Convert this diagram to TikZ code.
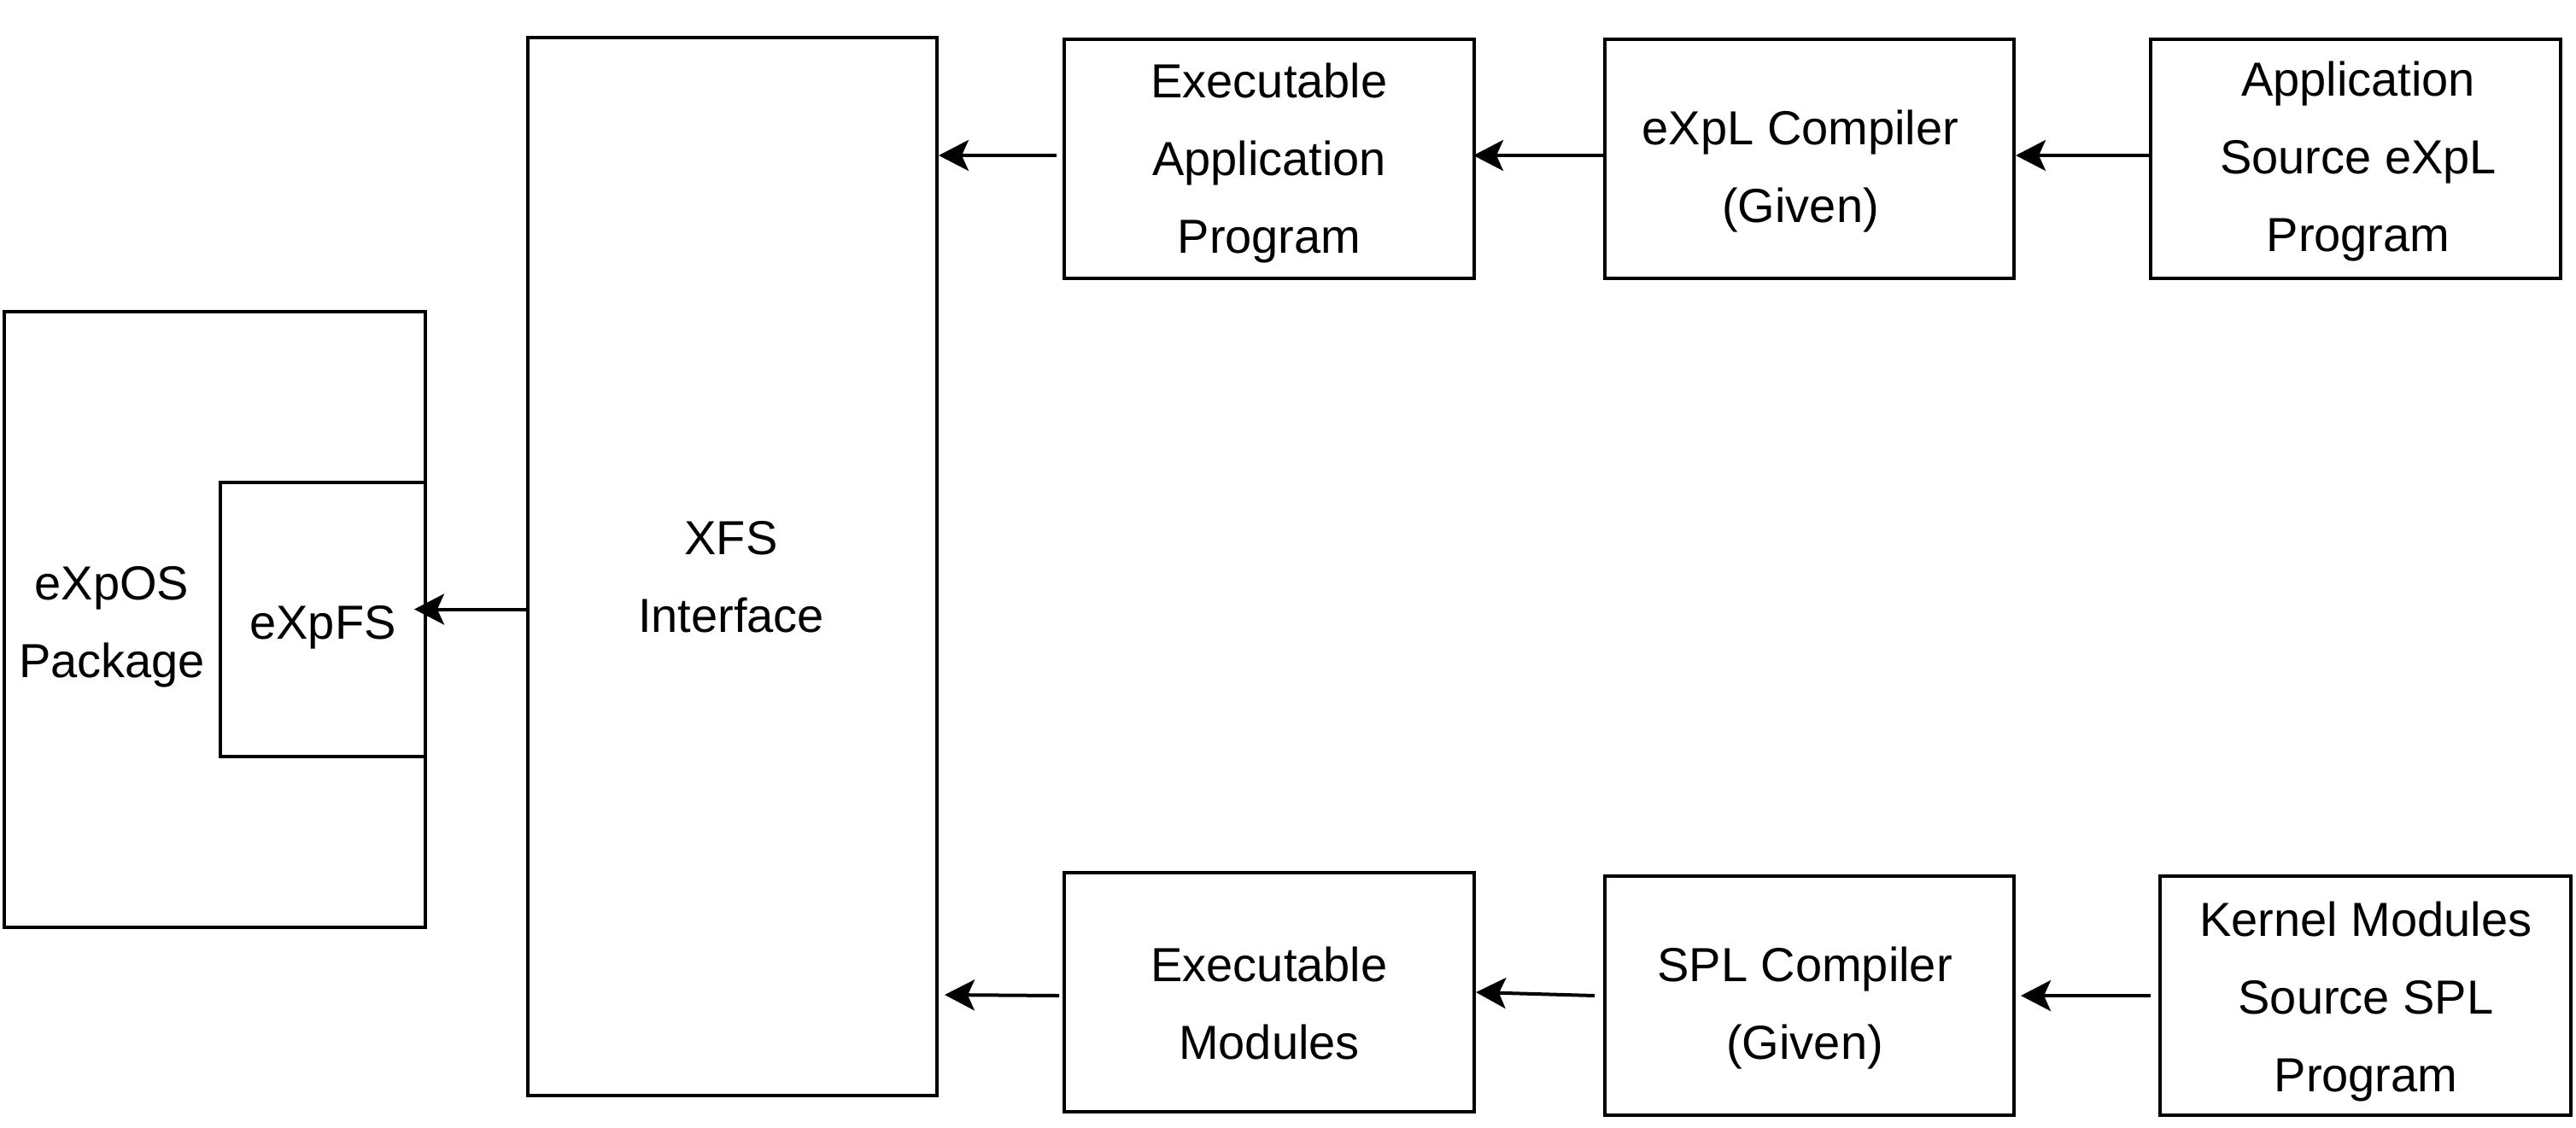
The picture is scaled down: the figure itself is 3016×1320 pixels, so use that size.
\documentclass[tikz,border=0pt]{standalone}
\usepackage{fontspec}
\setmainfont{Liberation Sans}
\usetikzlibrary{arrows.meta,calc,fit}
\newcommand\ls{\rule[-6.5pt]{0pt}{22.8pt}}
\begin{document}
\begin{tikzpicture}[x=0.25pt,y=-0.25pt,
  box/.style={draw, line width=1pt, inner sep=0pt},
  txt/.style={font=\fontsize{14}{22.8}\selectfont, align=center, inner sep=0pt},
  arr/.style={line width=1pt, -{Stealth[length=8.75pt,width=9pt,inset=2pt]}}]
\useasboundingbox (0,0) rectangle (3016,1320);
% boxes
\node[box, fit={(5,365)(498,1086)}] (pkg) {};
\node[box, fit={(258,565)(498,886)}] (fs) {};
\node[box, fit={(618,44)(1097,1283)}] (xfs) {};
\node[box, fit={(1246,46)(1726,326)}] (A1) {};
\node[box, fit={(1879,46)(2358,326)}] (C1) {};
\node[box, fit={(2518,46)(2998,326)}] (S1) {};
\node[box, fit={(1246,1022)(1726,1302)}] (E2) {};
\node[box, fit={(1879,1026)(2358,1306)}] (C2) {};
\node[box, fit={(2529,1026)(3010,1306)}] (S2) {};
% texts
\node[txt] (tpkg) at (131,728) {\ls eXpOS\\\ls Package};
\node[txt] (tfs) at (378,729) {\ls eXpFS};
\node[txt] (txfs) at (856,675) {\ls XFS\\\ls Interface};
\node[txt] (tA1) at (1486,186) {\ls Executable\\\ls Application\\\ls Program};
\node[txt] (tC1) at (2108,195) {\ls eXpL Compiler\\\ls (Given)};
\node[txt] (tS1) at (2761,184) {\ls Application\\\ls Source eXpL\\\ls Program};
\node[txt] (tE2) at (1486,1175) {\ls Executable\\\ls Modules};
\node[txt] (tC2) at (2113,1175) {\ls SPL Compiler\\\ls (Given)};
\node[txt] (tS2) at (2770,1168) {\ls Kernel Modules\\\ls Source SPL\\\ls Program};
% connectors
\draw[arr] ($(S1.west)+(0,-4)$) -- ($(C1.east)+(0,-4)$);
\draw[arr] ($(C1.west)+(0,-4)$) -- ($(A1.east)+(-3,-4)$);
\draw[arr] ($(A1.west)+(-7,-4)$) -- ($(xfs.east |- A1.west)+(0,-4)$);
\draw[arr] ($(S2.west)+(-9,0)$) -- ($(C2.east)+(6,0)$);
\draw[arr] ($(C2.west)+(-10,0)$) -- ($(E2.east)+(0,0)$);
\draw[arr] ($(E2.west)+(-4,4)$) -- ($(xfs.east |- E2.west)+(7,3)$);
\draw[arr] ($(xfs.west |- fs.east)+(4,-12)$) -- ($(fs.east)+(-15,-12)$);
\end{tikzpicture}
\end{document}
